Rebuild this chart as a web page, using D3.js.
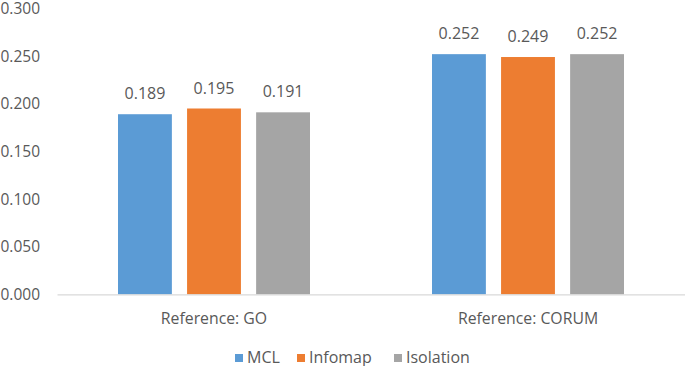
<!DOCTYPE html>
<html>
<head>
<meta charset="utf-8">
<script src="https://cdn.jsdelivr.net/npm/d3@7"></script>
<style>
  body { margin: 0; background: #fff; }
  text { font-family: "Open Sans", sans-serif; fill: #595959; }
</style>
</head>
<body>
<div id="chart"></div>
<script>
const categories = ["Reference: GO", "Reference: CORUM"]
const seriesNames = ["MCL", "Infomap", "Isolation"]
const mclValues = [0.189, 0.252]
const infomapValues = [0.195, 0.249]
const isolationValues = [0.191, 0.252]
const yTicks = [0, 0.05, 0.1, 0.15, 0.2, 0.25, 0.3]
const colors = ["#5B9BD5", "#ED7D31", "#A5A5A5"]

const width = 685, height = 366
const margin = { top: 8.4, right: 0, bottom: 72, left: 57 }

const svg = d3.select("#chart").append("svg")
    .attr("width", width)
    .attr("height", height)

const x = d3.scaleBand()
    .domain(categories)
    .range([margin.left, width - margin.right])

const x1 = d3.scaleBand()
    .domain(seriesNames)
    .range([0, 192])
    .paddingInner(0.22)

const y = d3.scaleLinear()
    .domain([0, 0.3])
    .range([height - margin.bottom + 0.4, margin.top])

const color = d3.scaleOrdinal(seriesNames, colors)

const allValues = [mclValues, infomapValues, isolationValues]
const rows = []
categories.forEach((c, i) => {
    seriesNames.forEach((s, j) => rows.push({ cat: c, name: s, value: allValues[j][i] }))
})

// y axis labels (no line)
svg.append("g")
    .attr("transform", `translate(${margin.left - 17},0)`)
    .call(d3.axisLeft(y).tickValues(yTicks).tickFormat(d3.format(".3f")).tickSize(0).tickPadding(0))
    .call(g => g.select(".domain").remove())
    .call(g => g.selectAll("text").attr("font-size", 15.5).attr("font-family", "Open Sans").attr("fill", "#595959"))

// bars
const bx = d => x(d.cat) + x.bandwidth() / 2 - 96 + x1(d.name)
svg.append("g")
    .selectAll("rect")
    .data(rows)
    .join("rect")
    .attr("x", bx)
    .attr("width", x1.bandwidth())
    .attr("y", d => y(d.value))
    .attr("height", d => y(0) - y(d.value))
    .attr("fill", d => color(d.name))

// value labels
svg.append("g")
    .selectAll("text")
    .data(rows)
    .join("text")
    .attr("x", d => bx(d) + x1.bandwidth() / 2)
    .attr("y", d => y(d.value) - 15)
    .attr("text-anchor", "middle")
    .attr("font-size", 16)
    .attr("fill", "#404040")
    .text(d => d3.format(".3f")(d.value))

// x axis
svg.append("g")
    .attr("transform", `translate(0,${y(0)})`)
    .call(d3.axisBottom(x).tickSize(0).tickPadding(18))
    .call(g => g.select(".domain").attr("stroke", "#D9D9D9").attr("stroke-width", 1.2))
    .call(g => g.selectAll("text").attr("font-size", 15.8).attr("font-family", "Open Sans").attr("fill", "#595959"))

// legend
const legendX = [235, 297, 394]
const legend = svg.append("g")
    .selectAll("g")
    .data(seriesNames)
    .join("g")
    .attr("transform", (d, i) => `translate(${legendX[i]},352)`)
legend.append("rect")
    .attr("width", 8).attr("height", 8).attr("y", 2)
    .attr("fill", d => color(d))
legend.append("text")
    .attr("x", 12).attr("y", 10.5)
    .attr("font-size", 16)
    .text(d => d)
</script>
</body>
</html>
